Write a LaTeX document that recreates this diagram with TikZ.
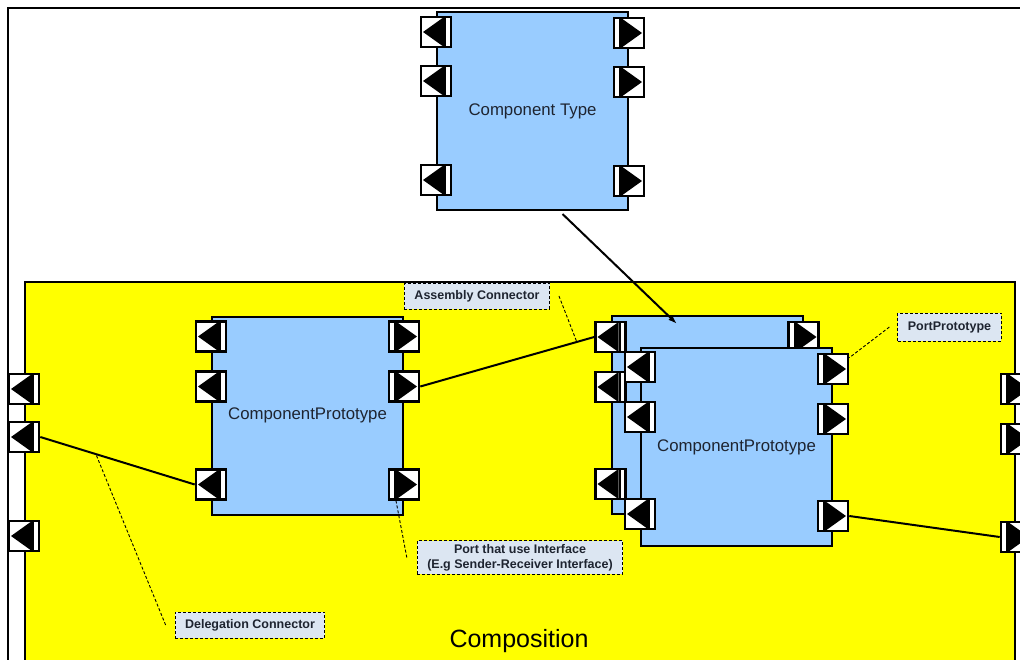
\documentclass[tikz,border=0pt]{standalone}
\usepackage{fontspec}
\setmainfont{Liberation Sans}
\usetikzlibrary{arrows.meta}

\definecolor{amarelo}{RGB}{255,255,0}
\definecolor{azul}{RGB}{153,204,255}
\definecolor{cinza}{RGB}{220,230,242}
\definecolor{texto}{RGB}{30,36,48}

\begin{document}
\begin{tikzpicture}[x=1pt, y=-1pt, > = {Latex[length=9pt,width=6pt]}]
            \tikzstyle{comp}=[draw, line width=2pt, fill=azul, minimum width=191pt, minimum height=198pt, inner sep=0pt, text=texto, font=\fontsize{16.8}{20}\selectfont]
            \tikzstyle{porta}=[draw, line width=2.6pt, fill=white, minimum size=30pt, inner sep=0pt]
            \tikzstyle{portin}=[porta, path picture={
                \fill[black] ([xshift=2pt]path picture bounding box.west) -- ([xshift=-7pt]path picture bounding box.north east) -- ([xshift=-7pt]path picture bounding box.south east) -- cycle;
                \fill[black] ([xshift=-7pt]path picture bounding box.north east) rectangle ([xshift=-5pt]path picture bounding box.south east);}]
            \tikzstyle{portout}=[porta, path picture={
                \fill[black] ([xshift=-2pt]path picture bounding box.east) -- ([xshift=7pt]path picture bounding box.north west) -- ([xshift=7pt]path picture bounding box.south west) -- cycle;
                \fill[black] ([xshift=7pt]path picture bounding box.north west) rectangle ([xshift=5pt]path picture bounding box.south west);}]
            \tikzstyle{nota}=[draw, dash pattern=on 3pt off 2pt, line width=0.9pt, fill=cinza, text=texto, font=\bfseries\fontsize{12.5}{15}\selectfont, inner xsep=10pt, minimum height=26pt, align=center]
            \tikzstyle{guia}=[dash pattern=on 3pt off 2pt, line width=0.9pt]
            \tikzstyle{conector}=[line width=2pt]

                \useasboundingbox (0,0) rectangle (1020,659);
                \clip (0,0) rectangle (1020,659);

                % Moldura e composicao
                \draw[line width=2pt] (7.5,680) -- (7.5,7.5) -- (1040,7.5);
                \node[draw, line width=2pt, fill=amarelo, minimum width=990pt, minimum height=400pt, inner sep=0pt] (comp) at (520,482) {};
                \node[font=\fontsize{25}{30}\selectfont] (rotulo) at (519,641) {Composition};

                % Componentes
                \node[comp] (ct) at (532.5,111) {Component Type};
                \node[portin] (ct-i1) at ([yshift=-21pt]ct.north west) {};
                \node[portin] (ct-i2) at ([yshift=-70pt]ct.north west) {};
                \node[portin] (ct-i3) at ([yshift=-169pt]ct.north west) {};
                \node[portout] (ct-o1) at ([yshift=-22pt]ct.north east) {};
                \node[portout] (ct-o2) at ([yshift=-71pt]ct.north east) {};
                \node[portout] (ct-o3) at ([yshift=-170pt]ct.north east) {};

                \node[comp] (cp1) at (307.5,415.5) {ComponentPrototype};
                \node[portin] (cp1-i1) at ([yshift=-21pt]cp1.north west) {};
                \node[portin] (cp1-i2) at ([yshift=-71pt]cp1.north west) {};
                \node[portin] (cp1-i3) at ([yshift=-169pt]cp1.north west) {};
                \node[portout] (cp1-o1) at ([yshift=-21pt]cp1.north east) {};
                \node[portout] (cp1-o2) at ([yshift=-71pt]cp1.north east) {};
                \node[portout] (cp1-o3) at ([yshift=-169pt]cp1.north east) {};

                \node[comp] (cp2) at (707,415) {};
                \node[portin] (cp2-i1) at ([yshift=-22pt]cp2.north west) {};
                \node[portin] (cp2-i2) at ([yshift=-72pt]cp2.north west) {};
                \node[portin] (cp2-i3) at ([yshift=-169pt]cp2.north west) {};
                \node[portout] (cp2-o1) at ([yshift=-22pt]cp2.north east) {};

                \node[comp] (cp3) at (736.5,447) {ComponentPrototype};
                \node[portin] (cp3-i1) at ([yshift=-20pt]cp3.north west) {};
                \node[portin] (cp3-i2) at ([yshift=-70pt]cp3.north west) {};
                \node[portin] (cp3-i3) at ([yshift=-167pt]cp3.north west) {};
                \node[portout] (cp3-o1) at ([yshift=-22pt]cp3.north east) {};
                \node[portout] (cp3-o2) at ([yshift=-72pt]cp3.north east) {};
                \node[portout] (cp3-o3) at ([yshift=-169pt]cp3.north east) {};

                % Portas da composicao
                \node[portin] (comp-i1) at ([yshift=-108pt]comp.north west) {};
                \node[portin] (comp-i2) at ([yshift=-156pt]comp.north west) {};
                \node[portin] (comp-i3) at ([yshift=-255pt]comp.north west) {};
                \node[portout] (comp-o1) at ([yshift=-108pt]comp.north east) {};
                \node[portout] (comp-o2) at ([yshift=-158pt]comp.north east) {};
                \node[portout] (comp-o3) at ([yshift=-256pt]comp.north east) {};

                % Conectores
                \draw[conector] (comp-i2.east) -- coordinate[pos=.36] (deleg) (cp1-i3.west);
                \draw[conector] (cp1-o2.east) -- coordinate[pos=.9] (asm) (cp2-i1.west);
                \draw[conector] (cp3-o3.east) -- (comp-o3.west);
                \draw[conector, ->] ([xshift=30pt,yshift=-3pt]ct.south) -- ([xshift=-30pt,yshift=-9pt]cp2.north);

                % Notas
                \node[nota] (n-asm) at (477,296) {Assembly Connector};
                \node[nota, minimum height=28pt] (n-pp) at (949.5,327) {PortPrototype};
                \node[nota] (n-port) at (520,557.5) {Port that use Interface\\(E.g Sender-Receiver Interface)};
                \node[nota] (n-del) at (250,625) {Delegation Connector};

                \draw[guia] ([xshift=9pt]n-asm.east) -- (asm);
                \draw[guia] ([xshift=-8pt]n-pp.west) -- ([yshift=-5pt]cp3-o1.north east);
                \draw[guia] ([xshift=-10pt]n-port.west) -- ([xshift=-8pt]cp1-o3.south);
                \draw[guia] ([xshift=-9pt]n-del.west) -- (deleg);
        \end{tikzpicture}
\end{document}
